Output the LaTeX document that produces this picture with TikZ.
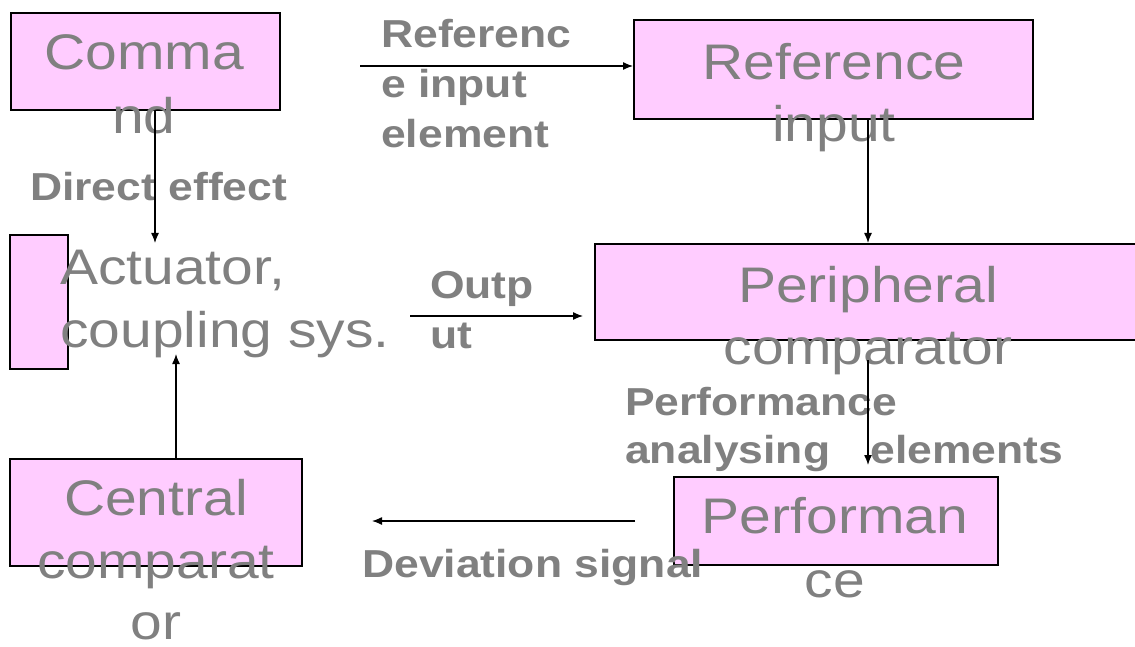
\documentclass[tikz,border=0pt]{standalone}
\usepackage{fontspec}
\setmainfont[FakeStretch=1.14]{Liberation Sans}
\usetikzlibrary{arrows.meta}
\definecolor{boxpink}{HTML}{FFCCFF}
\definecolor{txtgray}{HTML}{808080}
\begin{document}
\begin{tikzpicture}[x=1pt,y=-1pt,
  blk/.style={draw=black,line width=1.6pt,fill=boxpink,inner sep=0pt,anchor=north west},
  big/.style={text=txtgray,font=\fontsize{50}{60}\selectfont,inner sep=0pt,anchor=base},
  bigl/.style={big,anchor=base west},
  lbl/.style={text=txtgray,font=\fontsize{39}{48}\selectfont\bfseries,inner sep=0pt,anchor=base west},
  arr/.style={line width=1.3pt,-{Latex[length=10pt,width=8pt]}}]
\useasboundingbox (0,0) rectangle (1135,647);
% boxes
\node[blk,minimum width=269pt,minimum height=97pt] (cmd) at (10,12) {};
\node[blk,minimum width=399pt,minimum height=99pt] (ref) at (633,19) {};
\node[blk,minimum width=58pt,minimum height=134pt] (act) at (9,234) {};
\node[blk,minimum width=570pt,minimum height=96pt] (per) at (594,243) {};
\node[blk,minimum width=324pt,minimum height=88pt] (perf) at (673,476) {};
\node[blk,minimum width=292pt,minimum height=107pt] (cen) at (9,458) {};
% box texts
\node[big] (cmdA) at (144,70) {Comma};
\node[big] (cmdB) at (144,134) {nd};
\node[big] (refA) at (834,80) {Reference};
\node[big] (refB) at (834,142) {input};
\node[bigl] (actA) at (60,284) {Actuator,};
\node[bigl] (actB) at (60,347) {coupling sys.};
\node[big] (perA) at (868,302) {Peripheral};
\node[big] (perB) at (868,364) {comparator};
\node[big] (perfA) at (835,533) {Performan};
\node[big] (perfB) at (835,597) {ce};
\node[big] (cenA) at (156,515) {Central};
\node[big] (cenB) at (156,578) {comparat};
\node[big] (cenC) at (156,639) {or};
% labels
\node[lbl] (riA) at (381,48) {Referenc};
\node[lbl] (riB) at (381,98) {e input};
\node[lbl] (riC) at (381,148) {element};
\node[lbl] (de) at (30,201) {Direct effect};
\node[lbl] (outA) at (430,298) {Outp};
\node[lbl] (outB) at (430,348) {ut};
\node[lbl] (paA) at (625,415) {Performance};
\node[lbl] (paB) at (625,463) {analysing\hspace*{28pt} elements};
\node[lbl] (dev) at (362,577) {Deviation signal};
% connector ends
\coordinate (c1) at (155,243);
\coordinate (r0) at (360,66);
\coordinate (rx) at (868,0);
\coordinate (o0) at (410,316);
\coordinate (o1) at (583,316);
\coordinate (p0) at (868,360);
\coordinate (p1) at (868,465);
\coordinate (d0) at (635,521);
\coordinate (d1) at (372,521);
\coordinate (a1) at (176,354);
% connectors
\draw[arr] (cmd.south -| c1) -- (c1);
\draw[arr] (r0) -- (r0 -| ref.west);
\draw[arr] (ref.south -| rx) -- (per.north -| rx);
\draw[arr] (o0) -- (o1);
\draw[arr] (p0) -- (p1);
\draw[arr] (d0) -- (d1);
\draw[arr] (cen.north -| a1) -- (a1);
\end{tikzpicture}
\end{document}
